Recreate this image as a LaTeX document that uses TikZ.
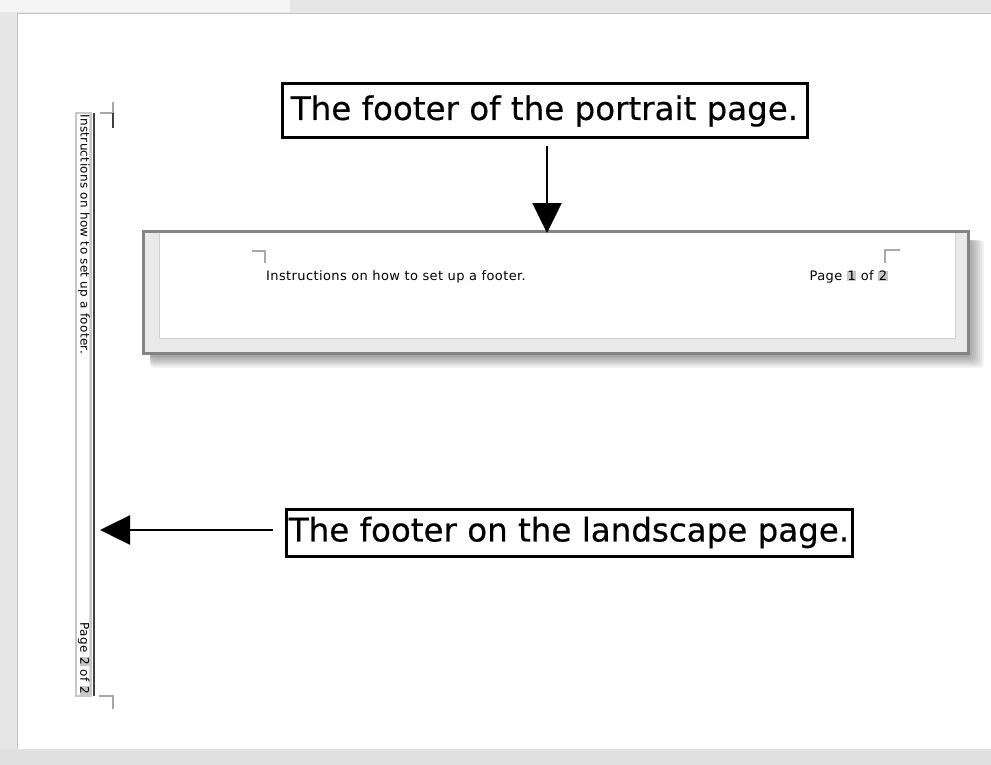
\documentclass[tikz,border=0pt]{standalone}
\usepackage{fontspec}
\setmainfont{DejaVu Sans}
\newfontfamily\notefont[FakeBold=0.4]{DejaVu Sans}
\newfontfamily\footfont[LetterSpace=3]{DejaVu Sans}
\usepackage{tikz}
\usetikzlibrary{arrows.meta,positioning}
\definecolor{framegray}{HTML}{E6E6E6}
\definecolor{edgegray}{HTML}{C4C4C4}
\definecolor{boxgray}{HTML}{858585}
\definecolor{bandgray}{HTML}{E9E9E9}
\definecolor{markgray}{HTML}{A8A8A8}
\definecolor{numgray}{HTML}{C8C8C8}
\definecolor{stripdark}{HTML}{404040}
\newcommand\numfield[1]{{\fboxsep=0.6pt\colorbox{numgray}{#1}}}
\tikzset{
  note/.style={draw=black,line width=3pt,fill=white,inner sep=0pt,outer sep=0pt,
    font=\notefont\fontsize{32.5}{38}\selectfont},
  pointer/.style={line width=2.5pt,-{Triangle[width=29pt,length=30pt]}},
  cropmark/.style={draw=markgray,line width=1.2pt},
  footnote/.style={inner sep=0pt,font=\footfont\fontsize{13}{15}\selectfont},
  sidenote/.style={inner sep=0pt,rotate=-90,font=\footfont\fontsize{12}{14}\selectfont}
}

\begin{document}
\begin{tikzpicture}[x=1pt,y=-1pt]
\useasboundingbox (0,0) rectangle (991,765);
% window round the page
\fill[framegray] (0,0) rectangle (991,765);
\fill[black!4] (0,0) rectangle (290,12);
\fill[black!12] (0,749) rectangle (991,765);
\fill[white] (17,14) rectangle (991,749);
\draw[edgegray,line width=1pt] (17,749) -- (17,14) -- (991,14);

% portrait footer
\foreach \k in {1,...,8}
  \fill[black,opacity=0.05,rounded corners=4pt] (150,240) rectangle (968+2*\k,355+1.6*\k);
\node[draw=boxgray,fill=bandgray,line width=3pt,inner sep=0pt,outer sep=0pt,
  minimum width=825pt,minimum height=122pt] (portrait) at (555.5,292.5) {};
\fill[white] (159,233) rectangle (955,338);
\draw[black!18,line width=0.8pt] (159,233) -- (159,338) -- (955,338) -- (955,233);
\draw[cropmark] (252,251) -- (265,251) -- (265,263);
\draw[cropmark] (900,250) -- (885,250) -- (885,263);
\node[footnote,anchor=west] (portraitleft) at (266,277) {Instructions on how to set up a footer.};
\node[footnote,anchor=east] (portraitright) at (888,277) {Page \numfield{1} of \numfield{2}};

% landscape footer
\node[inner sep=0pt,outer sep=0pt,minimum width=20pt,minimum height=583pt] (landscape) at (85,404.5) {};
\draw[black!22,line width=1.5pt] (76,113) rectangle (91,696);
\draw[black!15,line width=1pt] (89.5,113) -- (89.5,696);
\draw[stripdark,line width=2pt] (94,113) -- (94,696);
\draw[cropmark] (100,113) -- (113,113);
\draw[cropmark] (113,102) -- (113,113);
\draw[stripdark,line width=1.5pt] (113,113) -- (113,128);
\draw[cropmark] (99,696) -- (113,696) -- (113,709);
\node[sidenote,anchor=west] (landscapetop) at (84,114) {Instructions on how to set up a footer.};
\node[sidenote,anchor=east] (landscapebottom) at (84,695) {Page \numfield{2} of \numfield{2}};

% callouts
\node[note,minimum width=525pt,minimum height=54pt] (portraitnote) at (544.5,111) {The footer of the portrait page.};
\node[note,minimum width=566pt,minimum height=47pt] (landscapenote) at (569,532.5) {The footer on the landscape page.};
\coordinate (portraittip) at (547,233);
\coordinate (landscapetip) at (100,530);
\draw[pointer,shorten <=8pt] (portraitnote.south -| portraittip) -- (portraittip);
\draw[pointer,shorten <=13pt] (landscapenote.west |- landscapetip) -- (landscapetip);
\end{tikzpicture}
\end{document}
